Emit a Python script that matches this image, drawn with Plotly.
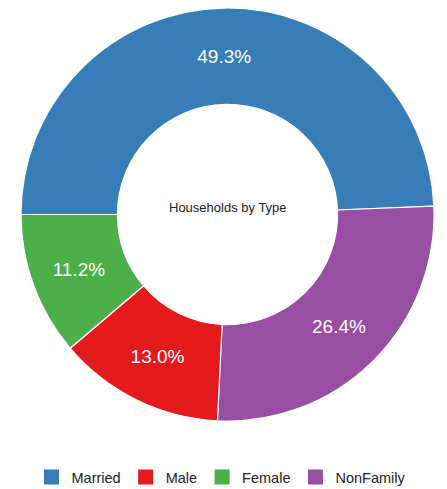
import plotly.graph_objects as go

# Data
categories = ["Married", "Male", "Female", "NonFamily"]
shares = [49.3, 13.0, 11.2, 26.4]
colors = ["#377eb8", "#e41a1c", "#4daf4a", "#984ea3"]
center_title = "Households by Type"

FONT = "Arial, Liberation Sans, sans-serif"
# the page body adds an 8px margin
W, H = 439, 485

fig = go.Figure()

fig.add_trace(go.Pie(
    labels=categories,
    values=shares,
    sort=True,
    direction="clockwise",
    rotation=-90,
    hole=0.533,
    marker=dict(colors=colors, line=dict(color="white", width=1.2)),
    texttemplate="%{value:.1f}%",
    textposition="inside",
    insidetextorientation="horizontal",
    textfont=dict(family=FONT, size=19, color="white"),
    domain=dict(x=[13 / W, 426 / W], y=[1 - 413 / H, 1]),
    showlegend=False,
    hoverinfo="label+value",
))

# legend entries in original series order
for cat, col in zip(categories, colors):
    fig.add_trace(go.Scatter(
        x=[None], y=[None], mode="markers", name=cat,
        marker=dict(symbol="square", size=15, color=col, line=dict(width=0)),
        showlegend=True,
    ))

fig.update_layout(
    width=W, height=H,
    margin=dict(l=0, r=0, t=0, b=0),
    paper_bgcolor="white",
    plot_bgcolor="white",
    xaxis=dict(visible=False),
    yaxis=dict(visible=False),
    legend=dict(orientation="h", x=213 / W, xanchor="center",
                y=0, yanchor="bottom",
                font=dict(family=FONT, size=14.5, color="#222"),
                itemwidth=30, tracegroupgap=0),
    annotations=[dict(
        text=center_title, showarrow=False,
        xref="paper", yref="paper",
        x=219.5 / W, y=1 - 199 / H, xanchor="center", yanchor="middle",
        font=dict(family=FONT, size=13, color="#222"),
    )],
)

fig.write_html("out.html")
